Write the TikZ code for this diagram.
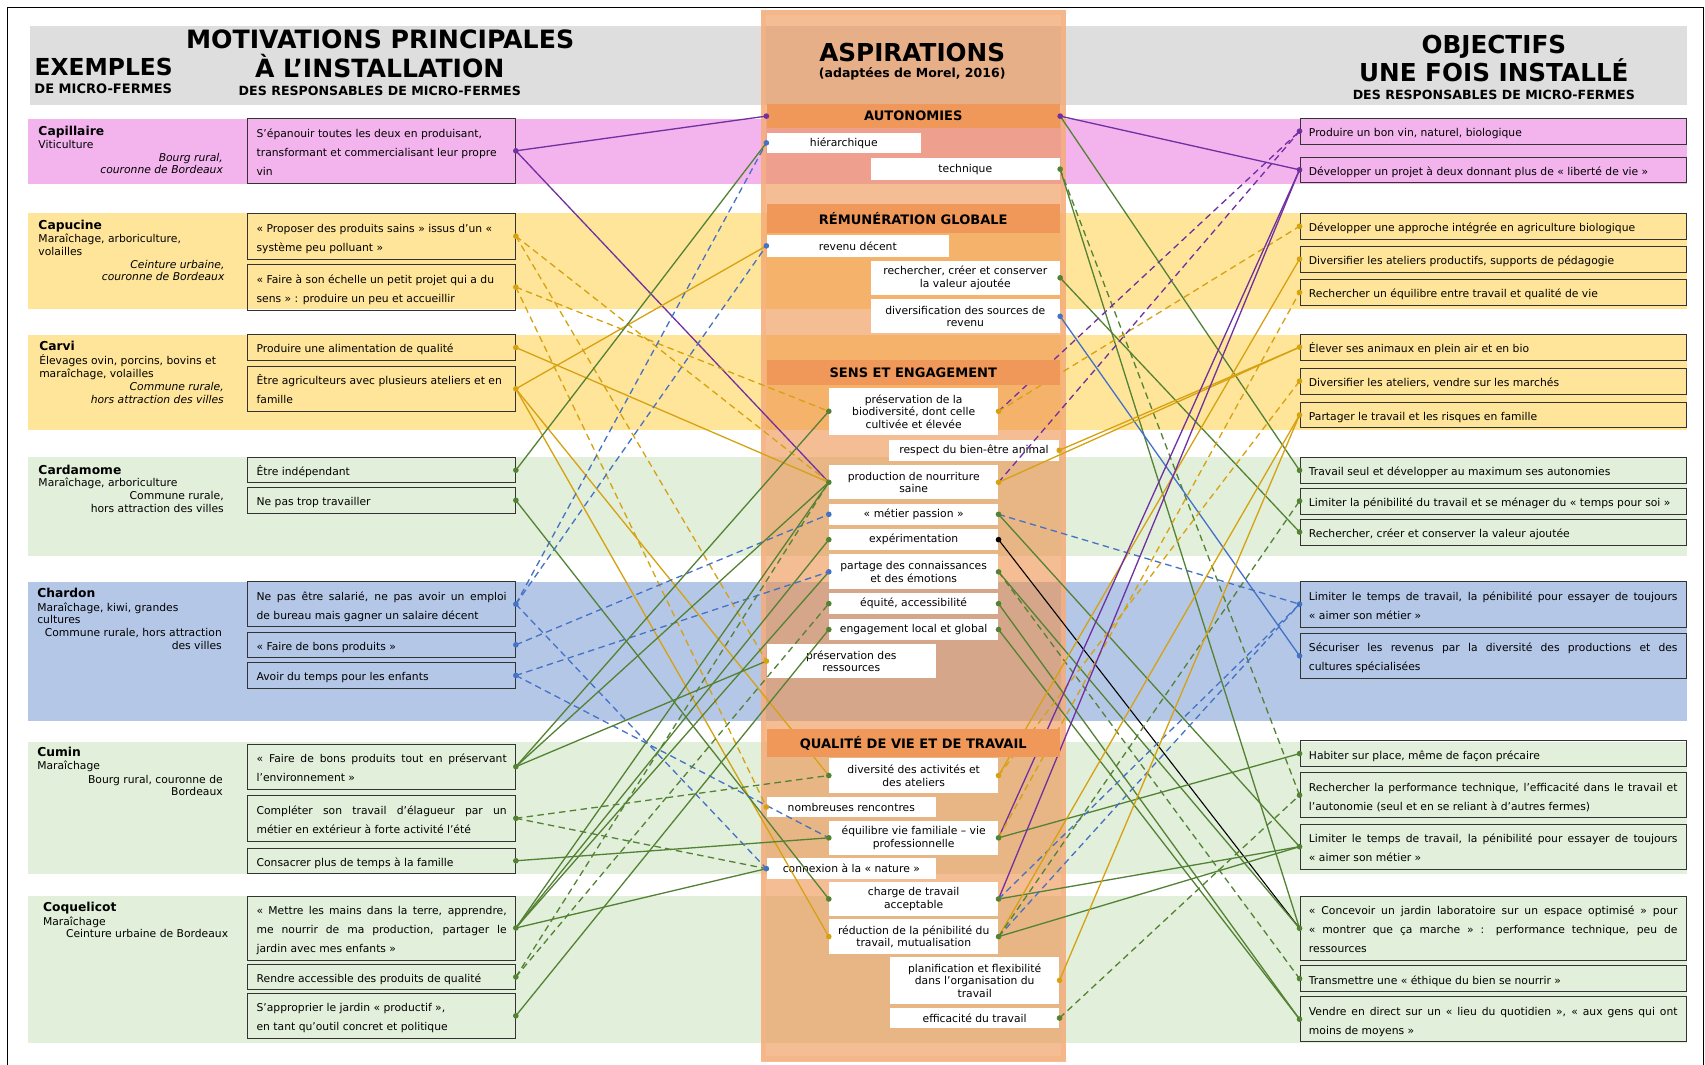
\documentclass[tikz,border=0pt]{standalone}
\usepackage{fontspec}
\setmainfont{DejaVu Sans}
\definecolor{cpurple}{RGB}{112,48,160}
\definecolor{cyellow}{RGB}{214,162,18}
\definecolor{cgreen}{RGB}{84,130,53}
\definecolor{cblue}{RGB}{68,114,196}
\definecolor{bpink}{RGB}{243,180,238}
\definecolor{byellow}{RGB}{255,229,153}
\definecolor{bgreen}{RGB}{226,239,218}
\definecolor{bblue}{RGB}{180,199,231}
\definecolor{bgrey}{RGB}{222,222,222}
\definecolor{corange}{RGB}{237,145,77}
\definecolor{cborder}{RGB}{246,180,135}
\definecolor{csec}{RGB}{240,152,90}
\pgfdeclarelayer{front}
\pgfsetlayers{main,front}
\newcommand\bxst{\rule[-2.5pt]{0pt}{15pt}}
\newcommand\ljust[1]{\makebox[230pt][s]{\bxst#1}}
\newcommand\lleft[1]{\makebox[230pt][l]{\bxst#1}}
\newcommand\rjust[1]{\makebox[339pt][s]{\bxst#1}}
\newcommand\rleft[1]{\makebox[339pt][l]{\bxst#1}}
\tikzset{
 lbox/.style={draw=black!80, line width=0.8pt, inner sep=0pt, minimum width=246pt, align=left, font=\fontsize{9.9}{17.5}\selectfont},
 rbox/.style={draw=black!80, line width=0.8pt, inner sep=0pt, minimum width=355.5pt, align=left, font=\fontsize{9.9}{17.5}\selectfont},
 mbox/.style={fill=white, inner sep=0pt, align=center, font=\fontsize{9.9}{11.5}\selectfont},
 sechead/.style={fill=csec, inner sep=0pt, minimum width=269.8pt, font=\fontsize{12}{14}\selectfont\bfseries},
 fname/.style={inner sep=0pt, anchor=base west, font=\fontsize{11.3}{13}\selectfont\bfseries},
 ftype/.style={inner sep=0pt, anchor=base west, font=\fontsize{9.9}{12}\selectfont},
 flocit/.style={inner sep=0pt, anchor=base east, font=\fontsize{9.9}{12}\selectfont\itshape},
 flocup/.style={inner sep=0pt, anchor=base east, font=\fontsize{9.9}{12}\selectfont},
 ttl/.style={inner sep=0pt, anchor=base, font=\fontsize{22.7}{26}\selectfont\bfseries},
 sttl/.style={inner sep=0pt, anchor=base, font=\fontsize{11.6}{14}\selectfont\bfseries},
 cn/.style={line width=1.2pt},
 pl/.style={cn, draw=cpurple}, pld/.style={pl, dash pattern=on 6pt off 4pt},
 yl/.style={cn, draw=cyellow}, yld/.style={yl, dash pattern=on 6pt off 4pt},
 gl/.style={cn, draw=cgreen}, gld/.style={gl, dash pattern=on 6pt off 4pt},
 bl/.style={cn, draw=cblue}, bld/.style={bl, dash pattern=on 6pt off 4pt},
 kl/.style={line width=1pt, draw=black}
}
\begin{document}
\begin{tikzpicture}[x=1pt,y=-1pt]
\useasboundingbox (0,0) rectangle (1568,979);
\fill[white] (0,0) rectangle (1568,979);
% frame
\draw[line width=1.3pt] (7,7) rectangle (1566.5,1000);
% header band
\fill[bgrey] (27.5,23.9) rectangle (1551.4,96.6);
% farm bands
\fill[bpink] (25.3,109.4) rectangle (1551.4,169.2);
\fill[byellow] (25.3,195.6) rectangle (1551.4,284.2);
\fill[byellow] (25.3,308.1) rectangle (1551.4,395.4);
\fill[bgreen] (25.3,420) rectangle (1551.4,511.3);
\fill[bblue] (25.3,534.9) rectangle (1551.4,662.8);
\fill[bgreen] (25.3,682) rectangle (1551.4,804);
\fill[bgreen] (25.3,823.7) rectangle (1551.4,959.5);
% central column
\fill[corange, opacity=0.6] (699.5,9.2) rectangle (980.3,976.3);
\draw[cborder, line width=4.5pt, opacity=0.7] (702,11.7) rectangle (977.8,973.8);

% titles
\node[inner sep=0pt, anchor=base, font=\fontsize{21.5}{24}\selectfont\bfseries] (tEx) at (95.4,69) {EXEMPLES};
\node[inner sep=0pt, anchor=base, font=\fontsize{12}{14}\selectfont\bfseries] (tEx2) at (95,86.2) {DE MICRO-FERMES};
\node[ttl, font=\fontsize{23.2}{26}\selectfont\bfseries] (tMot1) at (349.6,44.5) {MOTIVATIONS PRINCIPALES};
\node[ttl, font=\fontsize{23.1}{26}\selectfont\bfseries] (tMot2) at (349.2,71.1) {À L’INSTALLATION};
\node[sttl] (tMot3) at (349.3,87.4) {DES RESPONSABLES DE MICRO-FERMES};
\node[ttl] (tAsp1) at (838.9,56.7) {ASPIRATIONS};
\node[inner sep=0pt, anchor=base, font=\fontsize{11.5}{14}\selectfont\bfseries] (tAsp2) at (838.9,71.4) {(adaptées de Morel, 2016)};
\node[ttl] (tObj1) at (1373.8,49) {OBJECTIFS};
\node[ttl] (tObj2) at (1373.8,75.1) {UNE FOIS INSTALLÉ};
\node[sttl] (tObj3) at (1373.8,91.4) {DES RESPONSABLES DE MICRO-FERMES};

% farm descriptions
\node[fname] (nCap) at (35.2,124.2) {Capillaire};
\node[ftype] (tCap) at (35.2,136.4) {Viticulture};
\node[flocit] (lCapA) at (205.2,148.4) {Bourg rural,};
\node[flocit] (lCapB) at (205.2,160) {couronne de Bordeaux};

\node[fname] (nCpu) at (35.2,211.5) {Capucine};
\node[ftype] (tCpuA) at (35.2,223.2) {Maraîchage, arboriculture,};
\node[ftype] (tCpuB) at (35.2,234.8) {volailles};
\node[flocit] (lCpuA) at (206.6,247.1) {Ceinture urbaine,};
\node[flocit] (lCpuB) at (206.6,258.4) {couronne de Bordeaux};

\node[fname] (nCar) at (35.9,322.5) {Carvi};
\node[ftype] (tCarA) at (35.9,335) {Élevages ovin, porcins, bovins et};
\node[ftype] (tCarB) at (35.9,347) {maraîchage, volailles};
\node[flocit] (lCarA) at (206,359) {Commune rurale,};
\node[flocit] (lCarB) at (206,371) {hors attraction des villes};

\node[fname] (nCard) at (35.2,436) {Cardamome};
\node[ftype] (tCard) at (35.2,447.6) {Maraîchage, arboriculture};
\node[flocup] (lCardA) at (206,459.8) {Commune rurale,};
\node[flocup] (lCardB) at (206,471.5) {hors attraction des villes};

\node[fname] (nCha) at (34.1,549.6) {Chardon};
\node[ftype] (tChaA) at (34.1,561.9) {Maraîchage, kiwi, grandes};
\node[ftype] (tChaB) at (34.1,573.8) {cultures};
\node[flocup] (lChaA) at (204.2,585.5) {Commune rurale, hors attraction};
\node[flocup] (lChaB) at (204.2,597.1) {des villes};

\node[fname] (nCum) at (34.1,695.8) {Cumin};
\node[ftype] (tCum) at (34.1,708) {Maraîchage};
\node[flocup] (lCumA) at (205,720.4) {Bourg rural, couronne de};
\node[flocup] (lCumB) at (205,732) {Bordeaux};

\node[fname] (nCoq) at (39.4,838.4) {Coquelicot};
\node[ftype] (tCoq) at (39.4,850.7) {Maraîchage};
\node[ftype] (lCoq) at (60.5,862.6) {Ceinture urbaine de Bordeaux};

% left boxes
\node[lbox, minimum height=59.8pt] (L1) at (351,138.7) {\lleft{S’épanouir toutes les deux en produisant,}\\\lleft{transformant et commercialisant leur propre}\\\lleft{vin}};
\node[lbox, minimum height=42pt] (L2) at (351,217.2) {\lleft{« Proposer des produits sains » issus d’un «}\\\lleft{système peu polluant »}};
\node[lbox, minimum height=42.1pt] (L3) at (351,264.05) {\lleft{« Faire à son échelle un petit projet qui a du}\\\lleft{sens » : produire un peu et accueillir}};
\node[lbox, minimum height=24.2pt] (L4) at (351,319.6) {\lleft{Produire une alimentation de qualité}};
\node[lbox, minimum height=40.8pt] (L5) at (351,357.6) {\lleft{Être agriculteurs avec plusieurs ateliers et en}\\\lleft{famille}};
\node[lbox, minimum height=23pt] (L6) at (351,432.4) {\lleft{Être indépendant}};
\node[lbox, minimum height=23.9pt] (L7) at (351,460.15) {\lleft{Ne pas trop travailler}};
\node[lbox, minimum height=41.4pt] (L8) at (351,555.6) {\ljust{Ne pas être salarié, ne pas avoir un emploi}\\\lleft{de bureau mais gagner un salaire décent}};
\node[lbox, minimum height=23pt] (L9) at (351,593) {\lleft{« Faire de bons produits »}};
\node[lbox, minimum height=23.6pt] (L10) at (351,621.2) {\lleft{Avoir du temps pour les enfants}};
\node[lbox, minimum height=41.7pt] (L11) at (351,705.05) {\ljust{« Faire de bons produits tout en préservant}\\\lleft{l’environnement »}};
\node[lbox, minimum height=41.7pt] (L12) at (351,752.55) {\ljust{Compléter son travail d’élagueur par un}\\\lleft{métier en extérieur à forte activité l’été}};
\node[lbox, minimum height=23pt] (L13) at (351,791.6) {\lleft{Consacrer plus de temps à la famille}};
\node[lbox, minimum height=58.8pt] (L14) at (351,853.4) {\ljust{« Mettre les mains dans la terre, apprendre,}\\\ljust{me nourrir de ma production, partager le}\\\lleft{jardin avec mes enfants »}};
\node[lbox, minimum height=22.7pt] (L15) at (351,898.45) {\lleft{Rendre accessible des produits de qualité}};
\node[lbox, minimum height=41.3pt] (L16) at (351,934.15) {\lleft{S’approprier le jardin « productif »,}\\\lleft{en tant qu’outil concret et politique}};

% right boxes
\node[rbox, minimum height=23.9pt] (R1) at (1373.25,120.65) {\rleft{Produire un bon vin, naturel, biologique}};
\node[rbox, minimum height=23.5pt] (R2) at (1373.25,156.15) {\rleft{Développer un projet à deux donnant plus de « liberté de vie »}};
\node[rbox, minimum height=24pt] (R3) at (1373.25,208.1) {\rleft{Développer une approche intégrée en agriculture biologique}};
\node[rbox, minimum height=24pt] (R4) at (1373.25,238.3) {\rleft{Diversifier les ateliers productifs, supports de pédagogie}};
\node[rbox, minimum height=24pt] (R5) at (1373.25,268.85) {\rleft{Rechercher un équilibre entre travail et qualité de vie}};
\node[rbox, minimum height=23.6pt] (R6) at (1373.25,319.3) {\rleft{Élever ses animaux en plein air et en bio}};
\node[rbox, minimum height=23.6pt] (R7) at (1373.25,350.5) {\rleft{Diversifier les ateliers, vendre sur les marchés}};
\node[rbox, minimum height=23.3pt] (R8) at (1373.25,381.65) {\rleft{Partager le travail et les risques en famille}};
\node[rbox, minimum height=23.9pt] (R9) at (1373.25,432.55) {\rleft{Travail seul et développer au maximum ses autonomies}};
\node[rbox, minimum height=23.9pt] (R10) at (1373.25,460.75) {\rleft{Limiter la pénibilité du travail et se ménager du « temps pour soi »}};
\node[rbox, minimum height=23.9pt] (R11) at (1373.25,489.25) {\rleft{Rechercher, créer et conserver la valeur ajoutée}};
\node[rbox, minimum height=42.6pt] (R12) at (1373.25,555.6) {\rjust{Limiter le temps de travail, la pénibilité pour essayer de toujours}\\\rleft{« aimer son métier »}};
\node[rbox, minimum height=41.4pt] (R13) at (1373.25,603.1) {\rjust{Sécuriser les revenus par la diversité des productions et des}\\\rleft{cultures spécialisées}};
\node[rbox, minimum height=23.9pt] (R14) at (1373.25,693.05) {\rleft{Habiter sur place, même de façon précaire}};
\node[rbox, minimum height=41.4pt] (R15) at (1373.25,731.3) {\rjust{Rechercher la performance technique, l’efficacité dans le travail et}\\\rleft{l’autonomie (seul et en se reliant à d’autres fermes)}};
\node[rbox, minimum height=41.1pt] (R16) at (1373.25,778.65) {\rjust{Limiter le temps de travail, la pénibilité pour essayer de toujours}\\\rleft{« aimer son métier »}};
\node[rbox, minimum height=58.2pt] (R17) at (1373.25,853.7) {\rjust{« Concevoir un jardin laboratoire sur un espace optimisé » pour}\\\rjust{« montrer que ça marche » : performance technique, peu de}\\\rleft{ressources}};
\node[rbox, minimum height=24pt] (R18) at (1373.25,900) {\rleft{Transmettre une « éthique du bien se nourrir »}};
\node[rbox, minimum height=41.4pt] (R19) at (1373.25,937.3) {\rjust{Vendre en direct sur un « lieu du quotidien », « aux gens qui ont}\\\rleft{moins de moyens »}};

% section headers (above the connectors)
\begin{pgfonlayer}{front}
\node[sechead, minimum height=22.4pt] (Hauto) at (839.9,106.8) {AUTONOMIES};
\node[sechead, minimum height=26.4pt] (Hrem) at (839.9,200.8) {RÉMUNÉRATION GLOBALE};
\node[sechead, minimum height=23pt] (Hsens) at (839.9,342.5) {SENS ET ENGAGEMENT};
\node[sechead, minimum height=25.1pt] (Hqual) at (839.9,683.25) {QUALITÉ DE VIE ET DE TRAVAIL};
\fill[cpurple] (Hauto.west) circle (2.6pt);
\fill[cpurple] (Hauto.east) circle (2.6pt);
\end{pgfonlayer}

% aspiration boxes
\node[mbox, minimum width=142pt, minimum height=19pt] (Mhier) at (776,131.4) {hiérarchique};
\node[mbox, minimum width=174pt, minimum height=19.9pt] (Mtech) at (887.75,155.55) {technique};
\node[mbox, minimum width=167.7pt, minimum height=20pt] (Mrev) at (788.85,226.1) {revenu décent};
\node[mbox, minimum width=174pt, minimum height=31.6pt] (Mrech) at (887.75,255.5) {rechercher, créer et conserver\\la valeur ajoutée};
\node[mbox, minimum width=174pt, minimum height=31.2pt] (Mdiv) at (887.75,290.9) {diversification des sources de\\revenu};
\node[mbox, minimum width=155.7pt, minimum height=43.5pt] (Mpbio) at (840.25,378.25) {préservation de la\\biodiversité, dont celle\\cultivée et élevée};
\node[mbox, minimum width=156.3pt, minimum height=19pt] (Mresp) at (895.75,414.1) {respect du bien-être animal};
\node[mbox, minimum width=155.7pt, minimum height=31.3pt] (Mprod) at (840.25,443.55) {production de nourriture\\saine};
\node[mbox, minimum width=155.7pt, minimum height=19pt] (Mmet) at (840.25,473) {« métier passion »};
\node[mbox, minimum width=155.7pt, minimum height=19pt] (Mexp) at (840.25,496.3) {expérimentation};
\node[mbox, minimum width=155.7pt, minimum height=32.2pt] (Mpart) at (840.25,525.9) {partage des connaissances\\et des émotions};
\node[mbox, minimum width=155.7pt, minimum height=19pt] (Mequ) at (840.25,555.15) {équité, accessibilité};
\node[mbox, minimum width=155.7pt, minimum height=19.3pt] (Meng) at (840.25,578.95) {engagement local et global};
\node[mbox, minimum width=155.8pt, minimum height=31.6pt] (Mpres) at (782.9,608) {préservation des\\ressources};
\node[mbox, minimum width=155.7pt, minimum height=31.6pt] (Mdivact) at (840.25,713.2) {diversité des activités et\\des ateliers};
\node[mbox, minimum width=155.8pt, minimum height=19pt] (Mrenc) at (782.9,742.15) {nombreuses rencontres};
\node[mbox, minimum width=155.7pt, minimum height=31.6pt] (Mequil) at (840.25,770.5) {équilibre vie familiale – vie\\professionnelle};
\node[mbox, minimum width=155.8pt, minimum height=19pt] (Mconn) at (782.9,798.85) {connexion à la « nature »};
\node[mbox, minimum width=155.7pt, minimum height=31.3pt] (Mcharge) at (840.25,826.75) {charge de travail\\acceptable};
\node[mbox, minimum width=155.7pt, minimum height=31.9pt] (Mreduc) at (840.25,861.35) {réduction de la pénibilité du\\travail, mutualisation};
\node[mbox, minimum width=155.7pt, minimum height=43.5pt] (Mplan) at (896.35,901.55) {planification et flexibilité\\dans l’organisation du\\travail};
\node[mbox, minimum width=155.7pt, minimum height=19pt] (Meff) at (896.35,936.2) {efficacité du travail};

% connectors: motivations -> aspirations
\draw[pl] (L1.east) -- (Hauto.west);
\draw[pl] (L1.east) -- (Mprod.west);
\draw[yld] (L2.east) -- (Mprod.west);
\draw[yld] (L2.east) -- (Mpres.west);
\draw[yld] (L3.east) -- (Mpbio.west);
\draw[yld] (L3.east) -- (Mrenc.west);
\draw[yl] (L4.east) -- (Mprod.west);
\draw[yl] (L5.east) -- (Mrev.west);
\draw[yl] (L5.east) -- (Mdivact.west);
\draw[yl] (L5.east) -- (Mreduc.west);
\draw[gl] (L6.east) -- (Mhier.west);
\draw[gl] (L7.east) -- (Mcharge.west);
\draw[bld] (L8.east) -- (Mhier.west);
\draw[bld] (L8.east) -- (Mrev.west);
\draw[bld] (L8.east) -- (Mconn.west);
\draw[bld] (L9.east) -- (Mmet.west);
\draw[bld] (L10.east) -- (Mpart.west);
\draw[bld] (L10.east) -- (Mequil.west);
\draw[gl] (L11.east) -- (Mpbio.west);
\draw[gl] (L11.east) -- (Mprod.west);
\draw[gl] (L11.east) -- (Mpres.west);
\draw[gld] (L12.east) -- (Mdivact.west);
\draw[gld] (L12.east) -- (Mconn.west);
\draw[gl] (L13.east) -- (Mequil.west);
\draw[gl] (L14.east) -- (Mprod.west);
\draw[gl] (L14.east) -- (Mexp.west);
\draw[gl] (L14.east) -- (Mpart.west);
\draw[gl] (L14.east) -- (Mconn.west);
\draw[gld] (L15.east) -- (Mprod.west);
\draw[gld] (L15.east) -- (Mequ.west);
\draw[gl] (L16.east) -- (Meng.west);

% connectors: aspirations -> objectives
\draw[pl] (Hauto.east) -- (R2.west);
\draw[gl] (Hauto.east) -- (R9.west);
\draw[gl] (Mtech.east) -- (R17.west);
\draw[gld] (Mtech.east) -- (R15.west);
\draw[gl] (Mrech.east) -- (R11.west);
\draw[bl] (Mdiv.east) -- (R13.west);
\draw[pld] (Mpbio.east) -- (R1.west);
\draw[yld] (Mpbio.east) -- (R3.west);
\draw[pld] (Mprod.east) -- (R1.west);
\draw[yl] (Mprod.east) -- (R6.west);
\draw[yl] (Mresp.east) -- (R6.west);
\draw[bld] (Mmet.east) -- (R12.west);
\draw[gl] (Mmet.east) -- (R16.west);
\draw[kl] (Mexp.east) -- (R17.west);
\draw[gl] (Mpart.east) -- (R17.west);
\draw[gld] (Mpart.east) -- (R18.west);
\draw[gl] (Mequ.east) -- (R19.west);
\draw[gl] (Meng.east) -- (R19.west);
\draw[yl] (Mdivact.east) -- (R4.west);
\draw[yld] (Mdivact.east) -- (R7.west);
\draw[pl] (Mequil.east) -- (R2.west);
\draw[yld] (Mequil.east) -- (R5.west);
\draw[gl] (Mequil.east) -- (R14.west);
\draw[pl] (Mcharge.east) -- (R2.west);
\draw[bld] (Mcharge.east) -- (R12.west);
\draw[gl] (Mcharge.east) -- (R16.west);
\draw[yl] (Mreduc.east) -- (R8.west);
\draw[bld] (Mreduc.east) -- (R12.west);
\draw[gld] (Mreduc.east) -- (R10.west);
\draw[gl] (Mreduc.east) -- (R16.west);
\draw[yl] (Mplan.east) -- (R8.west);
\draw[gld] (Meff.east) -- (R15.west);

% dots
\foreach \p/\c in {L1.east/cpurple, L2.east/cyellow, L3.east/cyellow, L4.east/cyellow, L5.east/cyellow,
  L6.east/cgreen, L7.east/cgreen, L8.east/cblue, L9.east/cblue, L10.east/cblue,
  L11.east/cgreen, L12.east/cgreen, L13.east/cgreen, L14.east/cgreen, L15.east/cgreen, L16.east/cgreen,
  Mhier.west/cblue, Mrev.west/cblue, Mpbio.west/cgreen, Mprod.west/cgreen,
  Mmet.west/cblue, Mexp.west/cgreen, Mpart.west/cblue, Mequ.west/cgreen, Meng.west/cgreen,
  Mpres.west/cyellow, Mdivact.west/cgreen, Mrenc.west/cyellow, Mequil.west/cgreen, Mconn.west/cblue,
  Mcharge.west/cgreen, Mreduc.west/cyellow,
  Mtech.east/cgreen, Mrech.east/cgreen, Mdiv.east/cblue, Mpbio.east/cyellow,
  Mresp.east/cyellow, Mprod.east/cyellow, Mmet.east/cgreen, Mexp.east/black, Mpart.east/cgreen,
  Mequ.east/cgreen, Meng.east/cgreen, Mdivact.east/cyellow, Mequil.east/cgreen, Mcharge.east/cgreen,
  Mreduc.east/cgreen, Mplan.east/cyellow, Meff.east/cgreen,
  R1.west/cpurple, R2.west/cpurple, R3.west/cyellow, R4.west/cyellow, R5.west/cyellow, R6.west/cyellow,
  R7.west/cyellow, R8.west/cyellow, R9.west/cgreen, R10.west/cgreen, R11.west/cgreen, R12.west/cblue,
  R13.west/cblue, R14.west/cgreen, R15.west/cgreen, R16.west/cgreen, R17.west/cgreen, R18.west/cgreen,
  R19.west/cgreen}
  {\fill[\c] (\p) circle (2.6pt);}
\end{tikzpicture}
\end{document}
